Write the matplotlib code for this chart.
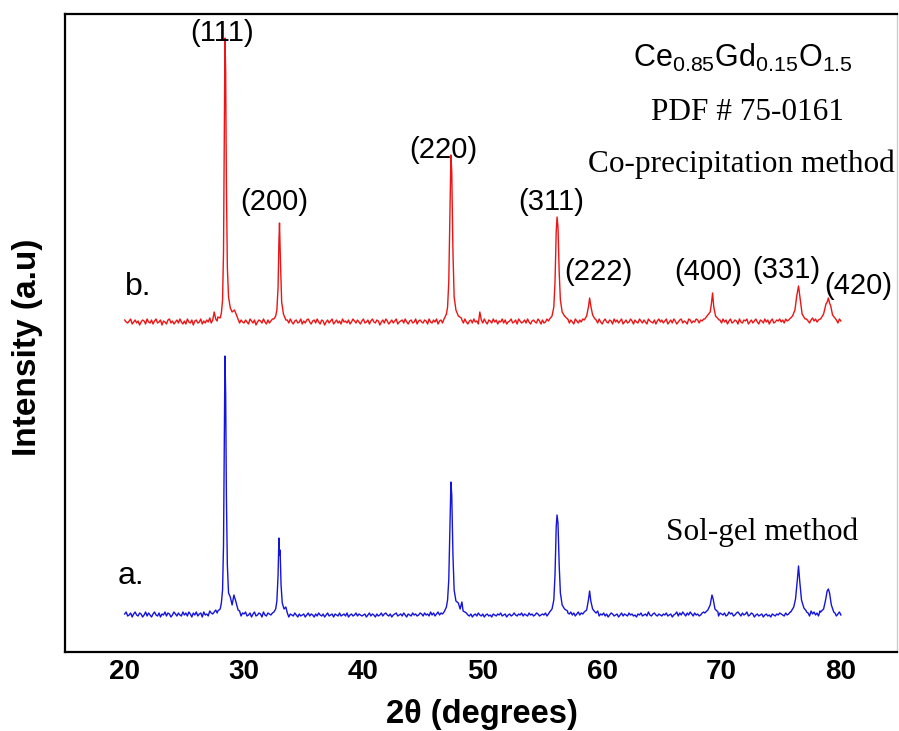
import numpy as np
import matplotlib
matplotlib.use("Agg")
import matplotlib.pyplot as plt

plt.rcParams['font.family'] = ['Liberation Sans', 'DejaVu Sans']
plt.rcParams['mathtext.fontset'] = 'custom'
plt.rcParams['mathtext.rm'] = 'Liberation Sans'
plt.rcParams['mathtext.it'] = 'Liberation Sans:italic'

# 2theta grid of the baseline readings (deg)
base_x = np.arange(20.0, 80.001, 0.125)

# baseline readings (a.u.), one row per 5 degrees
red_base = [
    2, 0, -1, 1, 3, -2, 0, 2, -1, 1, -3, 0, 2, 1, -2, 3, 0, -1, 2, -2, 1, 3, -1, 0, 2, -3, 1, 0, -2, 2, 3, -1, 1, -2, 0, 2, -1, 3, 0, -2,
    1, -2, 3, 0, -1, 2, -3, 1, 2, -1, 0, 3, -2, 1, -1, 2, 0, 4, -1, 2, 10, 3, 1, 0, 0, 0, 0, 0, 0, 0, 0, 0, 0, 0, 0, 0, 3, -1, 2, 0,
    -1, 2, 0, -2, 3, 1, -1, 2, -3, 0, 2, 1, -1, 3, 0, -2, 2, -1, 1, 3, 0, 0, 0, 0, 0, 0, 0, 0, 0, 2, -1, 3, 0, -2, 1, 2, -1, 0, 3, -2,
    1, -1, 2, 3, 0, -2, 1, 2, -1, 3, 0, -2, 2, 1, -3, 0, 2, -1, 1, 3, -2, 0, 2, -1, 1, -2, 3, 0, 1, -1, 2, -2, 0, 3, 1, -1, 2, 0, -2, 1,
    3, -1, 0, 2, -2, 1, 3, 0, -1, 2, 1, -3, 0, 2, -1, 3, 1, -2, 0, 2, -1, 1, 3, -2, 0, 1, 2, -1, 3, 0, -2, 1, 2, -1, 0, 3, -2, 1, 2, 0,
    -1, 2, 1, -2, 3, 0, -1, 2, 0, 3, -2, 1, 2, -1, 3, 0, 0, 0, 0, 0, 0, 0, 0, 0, 0, 0, 2, -1, 3, 0, -2, 1, 2, -1, 3, 0, 1, -2, 10, 2,
    -1, 3, 0, -2, 2, 1, -1, 3, 0, 2, -2, 1, 0, 3, -1, 2, -2, 0, 1, 3, -1, 0, 2, -2, 3, 1, -1, 0, 2, -1, 3, 0, -2, 1, 2, 0, -1, 3, 1, -2,
    2, -1, 0, 3, 1, 0, 0, 0, 0, 0, 0, 0, 0, 0, 0, 0, 0, 3, -1, 2, 0, -2, 3, 1, -1, 2, 0, 3, 0, 0, 0, 0, 0, 0, 0, 0, 2, -1, 3, 0,
    -2, 1, 3, 0, -1, 2, 1, -2, 3, 0, 2, -1, 1, 3, -2, 0, 2, -1, 0, 3, 1, -2, 2, 0, -1, 3, 1, -1, 2, 0, -2, 3, 1, 0, -1, 2, -2, 1, 3, 0,
    2, -1, 1, 3, -2, 0, 2, -1, 3, 1, -2, 0, 2, 3, -1, 1, 0, -2, 3, 2, -1, 1, 0, 3, 2, -1, 2, 1, 3, 0, 0, 0, 0, 0, 0, 0, 0, 0, 0, 2,
    -1, 3, 0, 2, -2, 1, 3, -1, 0, 2, 1, -2, 3, 0, -1, 2, 1, 3, -2, 0, 2, -1, 1, 3, 0, -2, 2, 1, -1, 3, 0, 2, -2, 1, 3, -1, 0, 2, 1, 3,
    0, 2, -1, 3, 1, 2, 0, 0, 0, 0, 0, 0, 0, 0, 0, 0, 0, 3, 1, -1, 2, 4, 1, 3, 0, 2, 3, 0, 0, 0, 0, 0, 0, 0, 0, 0, 0, 2, -1, 3,
    1]
blue_base = [
    1, 3, -1, 0, 2, -2, 1, 3, 0, -1, 2, 1, -2, 0, 3, -1, 2, 0, -2, 1, 3, 0, -1, 2, -2, 1, 0, 3, -1, 2, 1, -2, 0, 3, 1, -1, 2, 0, -1, 3,
    0, 2, -1, 3, 1, -2, 2, 0, 3, -1, 1, 2, -2, 3, 0, 1, -1, 4, 2, 1, 3, 5, 2, 0, 0, 0, 0, 0, 0, 0, 0, 0, 0, 0, 0, 0, 0, 4, -1, 2,
    1, 3, -1, 0, 2, -2, 1, 3, -1, 0, 2, 1, -2, 3, 0, -1, 2, 1, 0, 2, 0, 0, 0, 0, 0, 0, 0, 0, 0, 2, -2, 1, 0, -1, 2, 0, -2, 1, -1, 0,
    1, -2, 0, 2, -1, 1, 0, -2, 1, -1, 2, 0, -1, 1, -2, 0, 2, -1, 0, 1, -2, 1, 0, -1, 2, -1, 0, 1, -1, 2, -2, 0, 1, -1, 0, 2, -1, 1, 0, -1,
    0, 1, -2, 0, 2, -1, 1, 0, -2, 1, -1, 0, 2, -1, 1, 2, 0, -1, 1, -2, 0, 1, 2, -1, 0, 1, -1, 2, 0, -2, 1, 0, -1, 2, 0, 1, -1, 0, 2, 1,
    -1, 2, 0, 1, -1, 3, 0, 2, -1, 1, 3, 0, 2, 1, 3, 0, 0, 0, 0, 0, 0, 0, 0, 0, 0, 0, 0, 0, 0, 2, 0, -1, 1, -2, 0, 1, -1, 2, 0, -1,
    1, -2, 0, 1, -1, 0, -2, 1, 0, -1, 1, 0, 2, -1, 0, 1, -2, 0, 1, -1, 0, 2, 0, -1, 1, 0, 2, -1, 1, 0, -1, 2, 0, 1, -1, 0, 2, 1, -1, 0,
    1, 0, 2, -1, 1, 0, 0, 0, 0, 0, 0, 0, 0, 0, 0, 0, 0, 2, 1, 3, 0, 2, -1, 1, 3, 0, 2, 1, 0, 0, 0, 0, 0, 0, 0, 0, 2, 4, -1, 1,
    0, 2, -1, 1, -2, 0, 2, 1, -1, 0, 1, -2, 0, 2, -1, 1, 0, -1, 2, 0, 1, -1, 0, -2, 1, 0, 2, -1, 0, 1, -1, 3, 0, -1, 1, 2, 0, -1, 1, 0,
    -1, 1, 0, 2, -1, 0, 1, -2, 0, 1, 3, -1, 2, 0, 3, 1, -1, 2, 0, 3, 1, -1, 2, 0, 1, -1, 0, 2, 3, 0, 0, 0, 0, 0, 0, 0, 0, 0, -1, 2,
    1, 0, 2, -1, 0, 3, 1, 2, -1, 0, 2, 3, 1, -1, 2, 0, 1, 3, -1, 0, 2, 1, -2, 0, 1, -1, 0, 1, -2, 0, 1, -1, 0, -2, 1, 0, -1, 1, 0, 2,
    1, 0, -1, 2, 0, 1, 3, 0, 0, 0, 0, 0, 0, 0, 0, 0, 0, 3, 2, -1, 4, 1, 3, 0, 2, -1, 4, 0, 0, 0, 0, 0, 0, 0, 0, 0, 2, -1, 1, 3,
    0]

# peak profiles (2theta, a.u.)
red_peaks = [
    ([27.8, 28.0, 28.1, 28.2, 28.28, 28.34, 28.4, 28.46, 28.52, 28.6, 28.7, 28.85, 29.0, 29.2, 29.4],
     [5, 4, 9, 22, 70, 180, 284, 250, 140, 55, 25, 14, 10, 12, 6]),
    ([32.5, 32.65, 32.75, 32.85, 32.92, 32.97, 33.05, 33.15, 33.3, 33.5],
     [3, 6, 12, 35, 80, 99, 60, 20, 8, 2]),
    ([46.8, 46.95, 47.05, 47.15, 47.25, 47.33, 47.4, 47.5, 47.6, 47.75, 47.95, 48.2],
     [4, 8, 15, 40, 110, 167, 150, 70, 25, 12, 6, 4]),
    ([55.6, 55.8, 55.95, 56.05, 56.15, 56.22, 56.3, 56.4, 56.5, 56.65, 56.85, 57.1],
     [3, 6, 15, 40, 90, 105, 95, 50, 22, 10, 6, 3]),
    ([58.5, 58.7, 58.85, 58.95, 59.05, 59.2, 59.4],
     [2, 6, 15, 24, 16, 7, 3]),
    ([68.6, 68.85, 69.05, 69.15, 69.25, 69.35, 69.5, 69.8],
     [3, 7, 10, 18, 29, 15, 6, 2]),
    ([75.7, 75.95, 76.15, 76.3, 76.45, 76.6, 76.75, 77.0],
     [3, 6, 12, 26, 36, 22, 8, 3]),
    ([78.3, 78.55, 78.75, 78.85, 78.95, 79.05, 79.15, 79.3, 79.5],
     [3, 8, 18, 20, 24, 19, 16, 7, 4]),
]
blue_peaks = [
    ([27.8, 28.0, 28.1, 28.2, 28.28, 28.34, 28.4, 28.46, 28.52, 28.6, 28.7, 28.85, 29.0, 29.15, 29.3, 29.5],
     [4, 6, 12, 25, 70, 170, 259, 220, 120, 50, 22, 18, 10, 20, 14, 5]),
    ([32.5, 32.65, 32.75, 32.85, 32.92, 32.97, 33.02, 33.1, 33.2, 33.35, 33.5],
     [3, 6, 14, 40, 77, 60, 65, 30, 12, 6, 8]),
    ([46.8, 46.95, 47.05, 47.15, 47.25, 47.33, 47.4, 47.5, 47.6, 47.75, 47.95, 48.1, 48.25, 48.35, 48.5],
     [4, 8, 15, 35, 90, 133, 120, 60, 25, 14, 12, 6, 13, 4, 3]),
    ([55.6, 55.8, 55.95, 56.05, 56.15, 56.22, 56.3, 56.4, 56.5, 56.65, 56.85, 57.1],
     [3, 6, 15, 40, 88, 100, 92, 50, 22, 10, 6, 4]),
    ([58.5, 58.7, 58.85, 58.95, 59.05, 59.2, 59.4],
     [3, 5, 15, 24, 14, 6, 3]),
    ([68.6, 68.85, 69.05, 69.2, 69.3, 69.45, 69.7],
     [2, 5, 10, 20, 16, 6, 3]),
    ([75.8, 76.05, 76.2, 76.35, 76.45, 76.55, 76.7, 76.9, 77.1],
     [3, 8, 16, 35, 49, 34, 15, 7, 4]),
    ([78.3, 78.55, 78.7, 78.85, 78.95, 79.05, 79.2, 79.4],
     [3, 6, 14, 24, 26, 22, 10, 3]),
]

hkl = ['(111)', '(200)', '(220)', '(311)', '(222)', '(400)', '(331)', '(420)']
hkl_x = [28.12, 32.52, 46.67, 55.76, 59.66, 68.91, 75.44, 81.43]
hkl_y = [582, 413, 465, 413, 343, 343, 345, 329]

red_offset = 293


def build_trace(base, peaks):
    xs = base_x.copy()
    ys = np.array(base, dtype=float)
    assert len(xs) == len(ys), (len(xs), len(ys))
    keep = np.ones(len(xs), dtype=bool)
    for px, py in peaks:
        keep &= ~((xs >= px[0]) & (xs <= px[-1]))
    xs = list(xs[keep])
    ys = list(ys[keep])
    for px, py in peaks:
        xs += px
        ys += py
    order = np.argsort(xs)
    return np.array(xs)[order], np.array(ys)[order]


fig = plt.figure(figsize=(8.99, 7.31), dpi=100)
ax = fig.add_axes([65 / 899, 79 / 731, 832 / 899, 638 / 731])

bx, by = build_trace(blue_base, blue_peaks)
rx, ry = build_trace(red_base, red_peaks)
ax.plot(bx, by, color='#1414dc', lw=1.0)
ax.plot(rx, ry + red_offset, color='#ec1414', lw=1.0)

ax.set_xlim(15, 84.7)
ax.set_ylim(-37, 601)
ax.set_xticks([20, 30, 40, 50, 60, 70, 80])
ax.set_yticks([])
ax.tick_params(axis='x', length=0, pad=5)
for lab in ax.get_xticklabels():
    lab.set_fontsize(20)
    lab.set_fontweight('bold')
for s in ax.spines.values():
    s.set_linewidth(1.6)
ax.spines['right'].set_color('#cccccc')
ax.spines['right'].set_linewidth(1.0)

for t, x, y in zip(hkl, hkl_x, hkl_y):
    ax.text(x, y, t, fontsize=21, ha='center', va='center')

ax.text(20.0, 320, 'b.', fontsize=23, ha='left', va='baseline')
ax.text(19.4, 31, 'a.', fontsize=23, ha='left', va='baseline')

ax.text(62.55, 548, r'Ce$_{0.85}$Gd$_{0.15}$O$_{1.5}$', fontsize=22,
        ha='left', va='baseline')
ax.text(72.13, 495, 'PDF # 75-0161', fontsize=22.5, family='Liberation Serif',
        ha='center', va='baseline')
ax.text(58.78, 443, 'Co-precipitation method', fontsize=22.5,
        family='Liberation Serif', ha='left', va='baseline')
ax.text(65.39, 75, 'Sol-gel method', fontsize=22.5, family='Liberation Serif',
        ha='left', va='baseline')

fig.text(28 / 899, 1 - 347 / 731, 'Intensity (a.u)', fontsize=24,
         fontweight='bold', rotation=90, ha='center', va='center')
fig.text(482 / 899, 1 - 714 / 731, '2\u03b8 (degrees)', fontsize=23.5,
         fontweight='bold', ha='center', va='center')

fig.savefig('out.png', dpi=100)
